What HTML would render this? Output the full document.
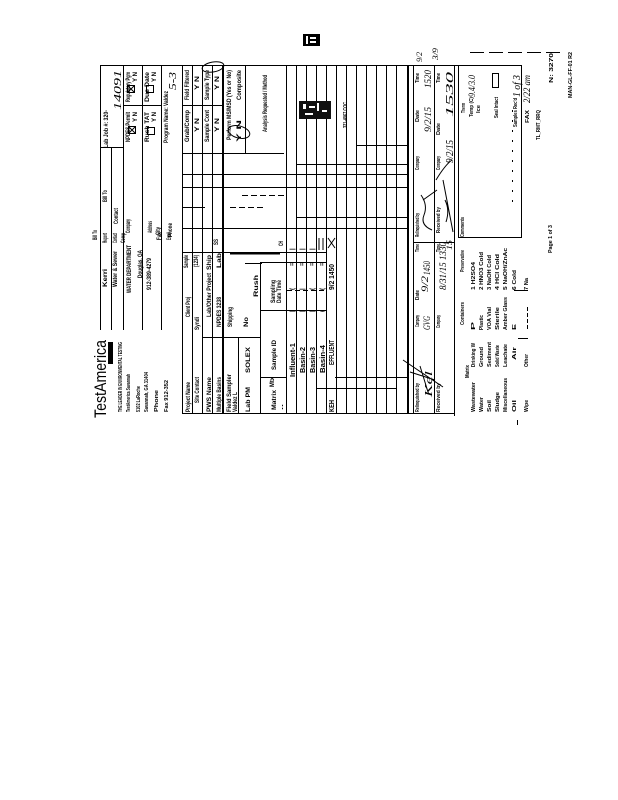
<!DOCTYPE html>
<html><head><meta charset="utf-8"><style>
html,body{margin:0;padding:0;background:#fff;}
svg{display:block;}
text{font-family:"Liberation Sans",sans-serif;font-weight:bold;fill:#000;}
text.h{font-family:"Liberation Serif",serif;font-weight:normal;font-style:italic;}
text.n{font-weight:normal;}
</style></head><body>
<svg width="618" height="800" viewBox="0 0 618 800" xmlns="http://www.w3.org/2000/svg">
<rect width="618" height="800" fill="#fff"/>

<!-- top icon -->
<rect x="303" y="34" width="17" height="12" fill="#000"/>
<rect x="306" y="36" width="2" height="8" fill="#fff"/>
<rect x="310" y="37" width="6" height="2" fill="#fff"/>
<rect x="310" y="41" width="6" height="2" fill="#fff"/>

<g stroke="#000" stroke-width="1" fill="none">
<!-- dashed top right -->
<path d="M470 52.5H560" stroke-dasharray="14 5"/>
<!-- top border -->
<path d="M100 65.5H522"/>
<!-- left header verticals -->
<path d="M100.5 65V330M111.5 147V330M123.5 65V330M142.5 65V330M161.5 65V330"/>
<path d="M123 105.5H161M100 147.5H123"/>
<!-- main verticals -->
<path d="M182.5 65V414M192.5 65V414M202.5 65V414M212.5 65V414"/>
<path d="M223 65V414" stroke-width="2"/>
<path d="M245.5 65V153M238.5 337V414M260.5 262V414"/>
<path d="M286.5 65V414M296.5 65V414M306.5 65V414M316.5 65V414M326.5 65V414M336.5 65V414M346.5 65V414M356.5 65V414M366.5 65V414M376.5 65V414M386.5 65V414M396.5 65V414"/>
<path d="M408 65V414" stroke-width="2"/>
<path d="M413.5 65V414M434.5 65V414M454.5 65V416"/>
<rect x="458.5" y="65.5" width="63" height="172"/>
<!-- main horizontals -->
<path d="M182 105.5H223M182 153.5H284M182 174.5H408M182 187.5H408M182 207.5H205M182 228.5H408"/>
<path d="M296 164.5H408M357 145.5H408M296 217.5H408"/>
<path d="M242 195.5H285M230 207.5H266" stroke-dasharray="6 3"/>
<path d="M182 252.5H327M260 262.5H327M260 310.5H327M203 337.5H260"/>
<path d="M287 290.5H327" stroke-dasharray="5 3"/>
<path d="M260 377.5H287M335 377.5H408M317 388.5H396"/>
<path d="M182 413.5H455"/>
<path d="M413 242.5H455"/>
<path d="M230 253.5H280" stroke-width="2"/>
<path d="M245 263.5H262"/>
<!-- boxes with X -->
<rect x="127.5" y="85.5" width="7" height="7"/><path d="M128 86L134 92M134 86L128 92"/>
<rect x="128.5" y="126.5" width="7" height="7"/><path d="M129 127L135 133M135 127L129 133"/>
<rect x="146.5" y="85.5" width="7" height="7"/>
<rect x="147.5" y="127.5" width="7" height="7"/>
<!-- handwriting circles -->
<ellipse cx="213" cy="67" rx="11" ry="5" transform="rotate(-10 213 67)"/>
<ellipse cx="239" cy="132" rx="11" ry="6" transform="rotate(15 239 132)"/>
<!-- comment box dotted -->
<path d="M512.5 110V205" stroke-dasharray="2 8"/>
<rect x="492.5" y="73.5" width="6" height="14"/>
<!-- codes area marks -->
<path d="M527.5 307V330" stroke-dasharray="4 2"/>
<path d="M518 338.5H528M514 290.5H528"/>
<path d="M517.5 420V425"/>
<!-- relinquish signatures -->
<path d="M403 360L443 387M410 372L435 380M420 366L428 392"/>
<path d="M421 195Q428 205 424 215T432 230M423 200L437 190"/>
<path d="M443 180L453 232M445 200Q450 210 446 222"/>
<path d="M436 180Q445 165 452 160"/>
<!-- sample X marks -->
<path d="M328 238L335 248M335 238L328 248"/>
<path d="M319 238V250M323 238V250"/>
</g>

<!-- stamp -->
<rect x="299" y="101" width="32" height="18" fill="#111"/>
<rect x="303" y="104" width="3" height="5" fill="#fff"/>
<rect x="309" y="106" width="6" height="2" fill="#fff"/>
<rect x="317" y="103" width="2" height="8" fill="#fff"/>
<rect x="322" y="110" width="5" height="2" fill="#fff"/>
<rect x="305" y="113" width="8" height="2" fill="#fff"/>

<!-- TestAmerica logo -->
<text class="n" transform="translate(106 418) rotate(-90)" font-size="17" textLength="78" lengthAdjust="spacingAndGlyphs" style="font-weight:normal">TestAmerica</text>
<rect x="108" y="342" width="5" height="22" fill="#000"/>
<g font-size="5">
<text transform="translate(122 412) rotate(-90)" textLength="70" lengthAdjust="spacingAndGlyphs">THE LEADER IN ENVIRONMENTAL TESTING</text>
<text transform="translate(130 412) rotate(-90)" textLength="38" lengthAdjust="spacingAndGlyphs">TestAmerica Savannah</text>
<text transform="translate(140 412) rotate(-90)" textLength="26" lengthAdjust="spacingAndGlyphs">5102 LaRoche</text>
<text transform="translate(148 412) rotate(-90)" textLength="40" lengthAdjust="spacingAndGlyphs">Savannah, GA 31404</text>
<text transform="translate(158 412) rotate(-90)" textLength="22" lengthAdjust="spacingAndGlyphs">Phone</text>
<text transform="translate(168 412) rotate(-90)" textLength="32" lengthAdjust="spacingAndGlyphs">Fax 912-352</text>
</g>

<!-- left header texts -->
<g font-size="6">
<text transform="translate(108 148) rotate(-90)" textLength="38" lengthAdjust="spacingAndGlyphs">Lab Job #: 320-</text>
<text transform="translate(107 202) rotate(-90)" textLength="12" lengthAdjust="spacingAndGlyphs">Bill To</text>
<text transform="translate(118 224) rotate(-90)" textLength="16" lengthAdjust="spacingAndGlyphs">Contact</text>
<text transform="translate(130 233) rotate(-90)" textLength="14" lengthAdjust="spacingAndGlyphs">Company</text>
<text transform="translate(130 102) rotate(-90)" textLength="30" lengthAdjust="spacingAndGlyphs">Regulatory Pgm</text>
<text transform="translate(137 82) rotate(-90)" textLength="10" lengthAdjust="spacingAndGlyphs">Y N</text>
<text transform="translate(130 142) rotate(-90)" textLength="30" lengthAdjust="spacingAndGlyphs">NPDES Permit</text>
<text transform="translate(137 122) rotate(-90)" textLength="10" lengthAdjust="spacingAndGlyphs">Y N</text>
<text transform="translate(149 102) rotate(-90)" textLength="30" lengthAdjust="spacingAndGlyphs">Due Date</text>
<text transform="translate(156 82) rotate(-90)" textLength="10" lengthAdjust="spacingAndGlyphs">Y N</text>
<text transform="translate(149 142) rotate(-90)" textLength="30" lengthAdjust="spacingAndGlyphs">Rush TAT</text>
<text transform="translate(156 122) rotate(-90)" textLength="10" lengthAdjust="spacingAndGlyphs">Y N</text>
<text transform="translate(152 233) rotate(-90)" textLength="12" lengthAdjust="spacingAndGlyphs">Address</text>
<text transform="translate(160 235) rotate(-90)" textLength="8" lengthAdjust="spacingAndGlyphs">City</text>
<text transform="translate(172 237) rotate(-90)" textLength="14" lengthAdjust="spacingAndGlyphs">Phone</text>
<text transform="translate(168 143) rotate(-90)" textLength="52" lengthAdjust="spacingAndGlyphs">Program Name: Valdez</text>
<!-- report to block -->
<text transform="translate(97 240) rotate(-90)" textLength="10" lengthAdjust="spacingAndGlyphs">Bill To</text>
<text transform="translate(107 243) rotate(-90)" textLength="10" lengthAdjust="spacingAndGlyphs">Report</text>
<text transform="translate(107 287) rotate(-90)" textLength="18" lengthAdjust="spacingAndGlyphs">Kerri</text>
<text transform="translate(117 243) rotate(-90)" textLength="10" lengthAdjust="spacingAndGlyphs">Contact</text>
<text transform="translate(117 287) rotate(-90)" textLength="36" lengthAdjust="spacingAndGlyphs">Water &amp; Sewer</text>
<text transform="translate(125 243) rotate(-90)" textLength="10" lengthAdjust="spacingAndGlyphs">Comp</text>
<text transform="translate(131 293) rotate(-90)" textLength="48" lengthAdjust="spacingAndGlyphs">WATER DEPARTMENT</text>
<text transform="translate(142 278) rotate(-90)" textLength="28" lengthAdjust="spacingAndGlyphs">Douglas, GA</text>
<text transform="translate(151 290) rotate(-90)" textLength="32" lengthAdjust="spacingAndGlyphs">912-389-4279</text>
<text transform="translate(161 240) rotate(-90)" textLength="8" lengthAdjust="spacingAndGlyphs">Fax</text>
<text transform="translate(171 240) rotate(-90)" textLength="8" lengthAdjust="spacingAndGlyphs">Email</text>
</g>
<text class="h" transform="translate(121 110) rotate(-90)" font-size="11" textLength="40" lengthAdjust="spacingAndGlyphs">14091</text>
<text class="h" transform="translate(176 90) rotate(-90)" font-size="10" textLength="18" lengthAdjust="spacingAndGlyphs">5-3</text>

<!-- main upper texts -->
<g font-size="6">
<text transform="translate(189 100) rotate(-90)" textLength="30" lengthAdjust="spacingAndGlyphs">Field Filtered</text>
<text transform="translate(189 142) rotate(-90)" textLength="32" lengthAdjust="spacingAndGlyphs">Grab/Comp</text>
<text transform="translate(199 90) rotate(-90)" textLength="14" lengthAdjust="spacingAndGlyphs">Y N</text>
<text transform="translate(199 132) rotate(-90)" textLength="14" lengthAdjust="spacingAndGlyphs">Y N</text>
<text transform="translate(209 100) rotate(-90)" textLength="30" lengthAdjust="spacingAndGlyphs">Sample Type</text>
<text transform="translate(209 142) rotate(-90)" textLength="32" lengthAdjust="spacingAndGlyphs">Sample Cont</text>
<text transform="translate(219 90) rotate(-90)" textLength="14" lengthAdjust="spacingAndGlyphs">Y N</text>
<text transform="translate(219 132) rotate(-90)" textLength="14" lengthAdjust="spacingAndGlyphs">Y N</text>
<text transform="translate(231 140) rotate(-90)" textLength="70" lengthAdjust="spacingAndGlyphs">Perform MS/MSD (Yes or No)</text>
<text transform="translate(241 100) rotate(-90)" textLength="30" lengthAdjust="spacingAndGlyphs">Composite</text>
<text transform="translate(241 142) rotate(-90)" textLength="22" lengthAdjust="spacingAndGlyphs">Y N</text>
<text transform="translate(267 132) rotate(-90)" textLength="57" lengthAdjust="spacingAndGlyphs">Analysis Requested / Method</text>
<text transform="translate(347 128) rotate(-90)" font-size="5" textLength="26" lengthAdjust="spacingAndGlyphs">321-4967 COC</text>
</g>

<!-- main lower texts -->
<g font-size="6">
<text transform="translate(188 268) rotate(-90)" textLength="13" lengthAdjust="spacingAndGlyphs">Sample</text>
<text transform="translate(190 317) rotate(-90)" textLength="20" lengthAdjust="spacingAndGlyphs">Client Proj</text>
<text transform="translate(190 412) rotate(-90)" textLength="30" lengthAdjust="spacingAndGlyphs">Project Name</text>
<text transform="translate(198 267) rotate(-90)" textLength="12" lengthAdjust="spacingAndGlyphs">(1234)</text>
<text transform="translate(199 330) rotate(-90)" textLength="13" lengthAdjust="spacingAndGlyphs">Syndi</text>
<text transform="translate(199 403) rotate(-90)" textLength="26" lengthAdjust="spacingAndGlyphs">Site Contact</text>
<text transform="translate(211 270) rotate(-90)" textLength="15" lengthAdjust="spacingAndGlyphs">Ship</text>
<text transform="translate(211 317) rotate(-90)" textLength="44" lengthAdjust="spacingAndGlyphs">Lab/Other Project</text>
<text transform="translate(211 412) rotate(-90)" textLength="35" lengthAdjust="spacingAndGlyphs">PWS Name</text>
<text transform="translate(221 268) rotate(-90)" textLength="15" lengthAdjust="spacingAndGlyphs">Lab</text>
<text transform="translate(221 327) rotate(-90)" textLength="30" lengthAdjust="spacingAndGlyphs">NPDES 3238</text>
<text transform="translate(221 412) rotate(-90)" textLength="35" lengthAdjust="spacingAndGlyphs">Multiple Basins</text>
<text transform="translate(218 245) rotate(-90)" textLength="6" lengthAdjust="spacingAndGlyphs">SS</text>
<text transform="translate(231 412) rotate(-90)" textLength="38" lengthAdjust="spacingAndGlyphs">Field Sampler</text>
<text transform="translate(237 412) rotate(-90)" textLength="20" lengthAdjust="spacingAndGlyphs">Valdez L</text>
<text transform="translate(232 327) rotate(-90)" textLength="20" lengthAdjust="spacingAndGlyphs">Shipping</text>
<text transform="translate(248 327) rotate(-90)" textLength="10" lengthAdjust="spacingAndGlyphs">No</text>
<text transform="translate(250 373) rotate(-90)" textLength="26" lengthAdjust="spacingAndGlyphs">SOLEX</text>
<text transform="translate(250 412) rotate(-90)" textLength="25" lengthAdjust="spacingAndGlyphs">Lab PM</text>
<text transform="translate(258 297) rotate(-90)" textLength="22" lengthAdjust="spacingAndGlyphs">Rush</text>
<text transform="translate(275 303) rotate(-90)" textLength="23" lengthAdjust="spacingAndGlyphs">Sampling</text>
<text transform="translate(281 303) rotate(-90)" textLength="23" lengthAdjust="spacingAndGlyphs">Date Time</text>
<text transform="translate(276 370) rotate(-90)" textLength="30" lengthAdjust="spacingAndGlyphs">Sample ID</text>
<text transform="translate(274 387) rotate(-90)" textLength="10" lengthAdjust="spacingAndGlyphs">Mtx</text>
<text transform="translate(276 410) rotate(-90)" textLength="20" lengthAdjust="spacingAndGlyphs">Matrix</text>
<text transform="translate(283 410) rotate(-90)" textLength="6" lengthAdjust="spacingAndGlyphs">..</text>
<text transform="translate(283 246) rotate(-90)" textLength="5" lengthAdjust="spacingAndGlyphs">CH</text>
</g>
<!-- sample rows -->
<g font-size="7">
<text transform="translate(295 377) rotate(-90)" textLength="34" lengthAdjust="spacingAndGlyphs">Influent-1</text>
<text transform="translate(305 373) rotate(-90)" textLength="26" lengthAdjust="spacingAndGlyphs">Basin-2</text>
<text transform="translate(315 373) rotate(-90)" textLength="26" lengthAdjust="spacingAndGlyphs">Basin-3</text>
<text transform="translate(325 373) rotate(-90)" textLength="28" lengthAdjust="spacingAndGlyphs">Basin-4</text>
<text transform="translate(334 365) rotate(-90)" textLength="25" lengthAdjust="spacingAndGlyphs">EFFLUENT</text>
<text transform="translate(334 412) rotate(-90)" textLength="12" lengthAdjust="spacingAndGlyphs">KEH</text>
<text transform="translate(334 290) rotate(-90)" textLength="26" lengthAdjust="spacingAndGlyphs">9/2 1450</text>
</g>
<g font-size="6">
<text transform="translate(294 250) rotate(-90)" textLength="8">| </text>
<text transform="translate(304 250) rotate(-90)" textLength="8">| </text>
<text transform="translate(314 250) rotate(-90)" textLength="8">| </text>
<text transform="translate(294 266) rotate(-90)" textLength="4">=</text>
<text transform="translate(304 266) rotate(-90)" textLength="4">=</text>
<text transform="translate(314 266) rotate(-90)" textLength="4">=</text>
<text transform="translate(324 266) rotate(-90)" textLength="4">=</text>
<text transform="translate(294 290) rotate(-90)" textLength="8">(</text>
<text transform="translate(304 290) rotate(-90)" textLength="8">|</text>
<text transform="translate(314 290) rotate(-90)" textLength="8">(</text>
<text transform="translate(324 290) rotate(-90)" textLength="8">(</text>
<text transform="translate(294 312) rotate(-90)" textLength="10">|</text>
<text transform="translate(304 312) rotate(-90)" textLength="10">|</text>
<text transform="translate(314 312) rotate(-90)" textLength="10">|</text>
<text transform="translate(324 312) rotate(-90)" textLength="10">(</text>
</g>

<!-- relinquished / received -->
<g font-size="5">
<text transform="translate(419 83) rotate(-90)" textLength="10" lengthAdjust="spacingAndGlyphs">Time</text>
<text transform="translate(419 122) rotate(-90)" textLength="12" lengthAdjust="spacingAndGlyphs">Date</text>
<text transform="translate(419 170) rotate(-90)" textLength="14" lengthAdjust="spacingAndGlyphs">Company</text>
<text transform="translate(419 237) rotate(-90)" textLength="24" lengthAdjust="spacingAndGlyphs">Relinquished by</text>
<text transform="translate(440 83) rotate(-90)" textLength="10" lengthAdjust="spacingAndGlyphs">Time</text>
<text transform="translate(440 135) rotate(-90)" textLength="12" lengthAdjust="spacingAndGlyphs">Date</text>
<text transform="translate(440 170) rotate(-90)" textLength="14" lengthAdjust="spacingAndGlyphs">Company</text>
<text transform="translate(440 233) rotate(-90)" textLength="26" lengthAdjust="spacingAndGlyphs">Received by</text>
<text transform="translate(419 252) rotate(-90)" textLength="8" lengthAdjust="spacingAndGlyphs">Time</text>
<text transform="translate(419 300) rotate(-90)" textLength="10" lengthAdjust="spacingAndGlyphs">Date</text>
<text transform="translate(419 327) rotate(-90)" textLength="12" lengthAdjust="spacingAndGlyphs">Company</text>
<text transform="translate(419 412) rotate(-90)" textLength="29" lengthAdjust="spacingAndGlyphs">Relinquished by</text>
<text transform="translate(440 252) rotate(-90)" textLength="8" lengthAdjust="spacingAndGlyphs">Time</text>
<text transform="translate(440 328) rotate(-90)" textLength="13" lengthAdjust="spacingAndGlyphs">Company</text>
<text transform="translate(440 412) rotate(-90)" textLength="29" lengthAdjust="spacingAndGlyphs">Received by</text>
</g>
<g class="h">
<text class="h" transform="translate(431 88) rotate(-90)" font-size="9" textLength="18" lengthAdjust="spacingAndGlyphs">1520</text>
<text class="h" transform="translate(431 132) rotate(-90)" font-size="9" textLength="25" lengthAdjust="spacingAndGlyphs">9/2/15</text>
<text class="h" transform="translate(453 117) rotate(-90)" font-size="10" textLength="45" lengthAdjust="spacingAndGlyphs">1530</text>
<text class="h" transform="translate(453 163) rotate(-90)" font-size="10" textLength="23" lengthAdjust="spacingAndGlyphs">9/2/15</text>
<text class="h" transform="translate(430 275) rotate(-90)" font-size="9" textLength="14" lengthAdjust="spacingAndGlyphs">1450</text>
<text class="h" transform="translate(428 292) rotate(-90)" font-size="9" textLength="16" lengthAdjust="spacingAndGlyphs">9/2</text>
<text class="h" transform="translate(430 330) rotate(-90)" font-size="9" textLength="14" lengthAdjust="spacingAndGlyphs">GVG</text>
<text class="h" transform="translate(432 397) rotate(-90)" font-size="10" textLength="26" lengthAdjust="spacingAndGlyphs">Kel</text>
<text class="h" transform="translate(446 290) rotate(-90)" font-size="9" textLength="48" lengthAdjust="spacingAndGlyphs">8/31/15 1330</text>
<text class="h" transform="translate(452 250) rotate(-90)" font-size="8" textLength="10" lengthAdjust="spacingAndGlyphs">15</text>
<text class="h" transform="translate(422 62) rotate(-90)" font-size="8" textLength="10" lengthAdjust="spacingAndGlyphs">9/2</text>
<text class="h" transform="translate(438 60) rotate(-90)" font-size="8" textLength="12" lengthAdjust="spacingAndGlyphs">3/9</text>
</g>

<!-- comments box -->
<g font-size="5">
<text transform="translate(464 237) rotate(-90)" textLength="20" lengthAdjust="spacingAndGlyphs">Comments</text>
<text transform="translate(465 113) rotate(-90)" textLength="10" lengthAdjust="spacingAndGlyphs">Therm</text>
<text transform="translate(473 117) rotate(-90)" textLength="20" lengthAdjust="spacingAndGlyphs">Temp (C)</text>
<text transform="translate(480 113) rotate(-90)" textLength="8" lengthAdjust="spacingAndGlyphs">Ice</text>
<text transform="translate(498 118) rotate(-90)" textLength="21" lengthAdjust="spacingAndGlyphs">Seal Intact</text>
<text transform="translate(517 127) rotate(-90)" textLength="29" lengthAdjust="spacingAndGlyphs">Samples Rec'd</text>
<text transform="translate(529 123) rotate(-90)" textLength="13" lengthAdjust="spacingAndGlyphs">FAX</text>
<text transform="translate(540 140) rotate(-90)" textLength="30" lengthAdjust="spacingAndGlyphs">TL_RMT_RRQ</text>
<text transform="translate(553 83) rotate(-90)" textLength="30" lengthAdjust="spacingAndGlyphs">N: 3270</text>
<text transform="translate(572 98) rotate(-90)" textLength="46" lengthAdjust="spacingAndGlyphs">MAN-GL-FF-01 R2</text>
<text transform="translate(552 253) rotate(-90)" textLength="28" lengthAdjust="spacingAndGlyphs">Page 1 of 3</text>
</g>
<text class="h" transform="translate(475 97) rotate(-90)" font-size="9" textLength="22" lengthAdjust="spacingAndGlyphs">9.4/3.0</text>
<text class="h" transform="translate(520 97) rotate(-90)" font-size="10" textLength="22" lengthAdjust="spacingAndGlyphs">1 of 3</text>
<text class="h" transform="translate(530 103) rotate(-90)" font-size="9" textLength="28" lengthAdjust="spacingAndGlyphs">2/22 am</text>

<!-- codes area -->
<g font-size="5">
<text transform="translate(464 272) rotate(-90)" textLength="22" lengthAdjust="spacingAndGlyphs">Preservative</text>
<text transform="translate(464 325) rotate(-90)" textLength="23" lengthAdjust="spacingAndGlyphs">Containers</text>
<text transform="translate(469 378) rotate(-90)" textLength="13" lengthAdjust="spacingAndGlyphs">Matrix</text>

<text transform="translate(475 412) rotate(-90)" textLength="30" lengthAdjust="spacingAndGlyphs">Wastewater</text>
<text transform="translate(483 412) rotate(-90)" textLength="15" lengthAdjust="spacingAndGlyphs">Water</text>
<text transform="translate(491 412) rotate(-90)" textLength="12" lengthAdjust="spacingAndGlyphs">Soil</text>
<text transform="translate(499 412) rotate(-90)" textLength="20" lengthAdjust="spacingAndGlyphs">Sludge</text>
<text transform="translate(507 412) rotate(-90)" textLength="34" lengthAdjust="spacingAndGlyphs">Miscellaneous</text>
<text transform="translate(516 412) rotate(-90)" textLength="12" lengthAdjust="spacingAndGlyphs">Oil</text>
<text transform="translate(528 412) rotate(-90)" textLength="12" lengthAdjust="spacingAndGlyphs">Wipe</text>

<text transform="translate(475 367) rotate(-90)" textLength="24" lengthAdjust="spacingAndGlyphs">Drinking W</text>
<text transform="translate(483 367) rotate(-90)" textLength="20" lengthAdjust="spacingAndGlyphs">Ground</text>
<text transform="translate(491 367) rotate(-90)" textLength="25" lengthAdjust="spacingAndGlyphs">Sediment</text>
<text transform="translate(499 367) rotate(-90)" textLength="22" lengthAdjust="spacingAndGlyphs">Solid Waste</text>
<text transform="translate(507 367) rotate(-90)" textLength="23" lengthAdjust="spacingAndGlyphs">Leachate</text>
<text transform="translate(516 360) rotate(-90)" textLength="13" lengthAdjust="spacingAndGlyphs">Air</text>
<text transform="translate(528 367) rotate(-90)" textLength="13" lengthAdjust="spacingAndGlyphs">Other</text>

<text transform="translate(475 330) rotate(-90)" textLength="8" lengthAdjust="spacingAndGlyphs">P</text>
<text transform="translate(483 330) rotate(-90)" textLength="15" lengthAdjust="spacingAndGlyphs">Plastic</text>
<text transform="translate(491 330) rotate(-90)" textLength="23" lengthAdjust="spacingAndGlyphs">VOA Vial</text>
<text transform="translate(499 330) rotate(-90)" textLength="23" lengthAdjust="spacingAndGlyphs">Sterile</text>
<text transform="translate(507 330) rotate(-90)" textLength="33" lengthAdjust="spacingAndGlyphs">Amber Glass</text>
<text transform="translate(516 330) rotate(-90)" textLength="6" lengthAdjust="spacingAndGlyphs">E</text>

<text transform="translate(475 290) rotate(-90)" textLength="28" lengthAdjust="spacingAndGlyphs">1 H2SO4</text>
<text transform="translate(483 290) rotate(-90)" textLength="38" lengthAdjust="spacingAndGlyphs">2 HNO3 Cold</text>
<text transform="translate(491 290) rotate(-90)" textLength="35" lengthAdjust="spacingAndGlyphs">3 NaOH Cold</text>
<text transform="translate(499 290) rotate(-90)" textLength="36" lengthAdjust="spacingAndGlyphs">4 HCl Cold</text>
<text transform="translate(507 290) rotate(-90)" textLength="42" lengthAdjust="spacingAndGlyphs">5 NaOH/ZnAc</text>
<text transform="translate(516 290) rotate(-90)" textLength="20" lengthAdjust="spacingAndGlyphs">6 Cold</text>
<text transform="translate(528 290) rotate(-90)" textLength="12" lengthAdjust="spacingAndGlyphs">7 Na</text>
</g>
</svg>
</body></html>
